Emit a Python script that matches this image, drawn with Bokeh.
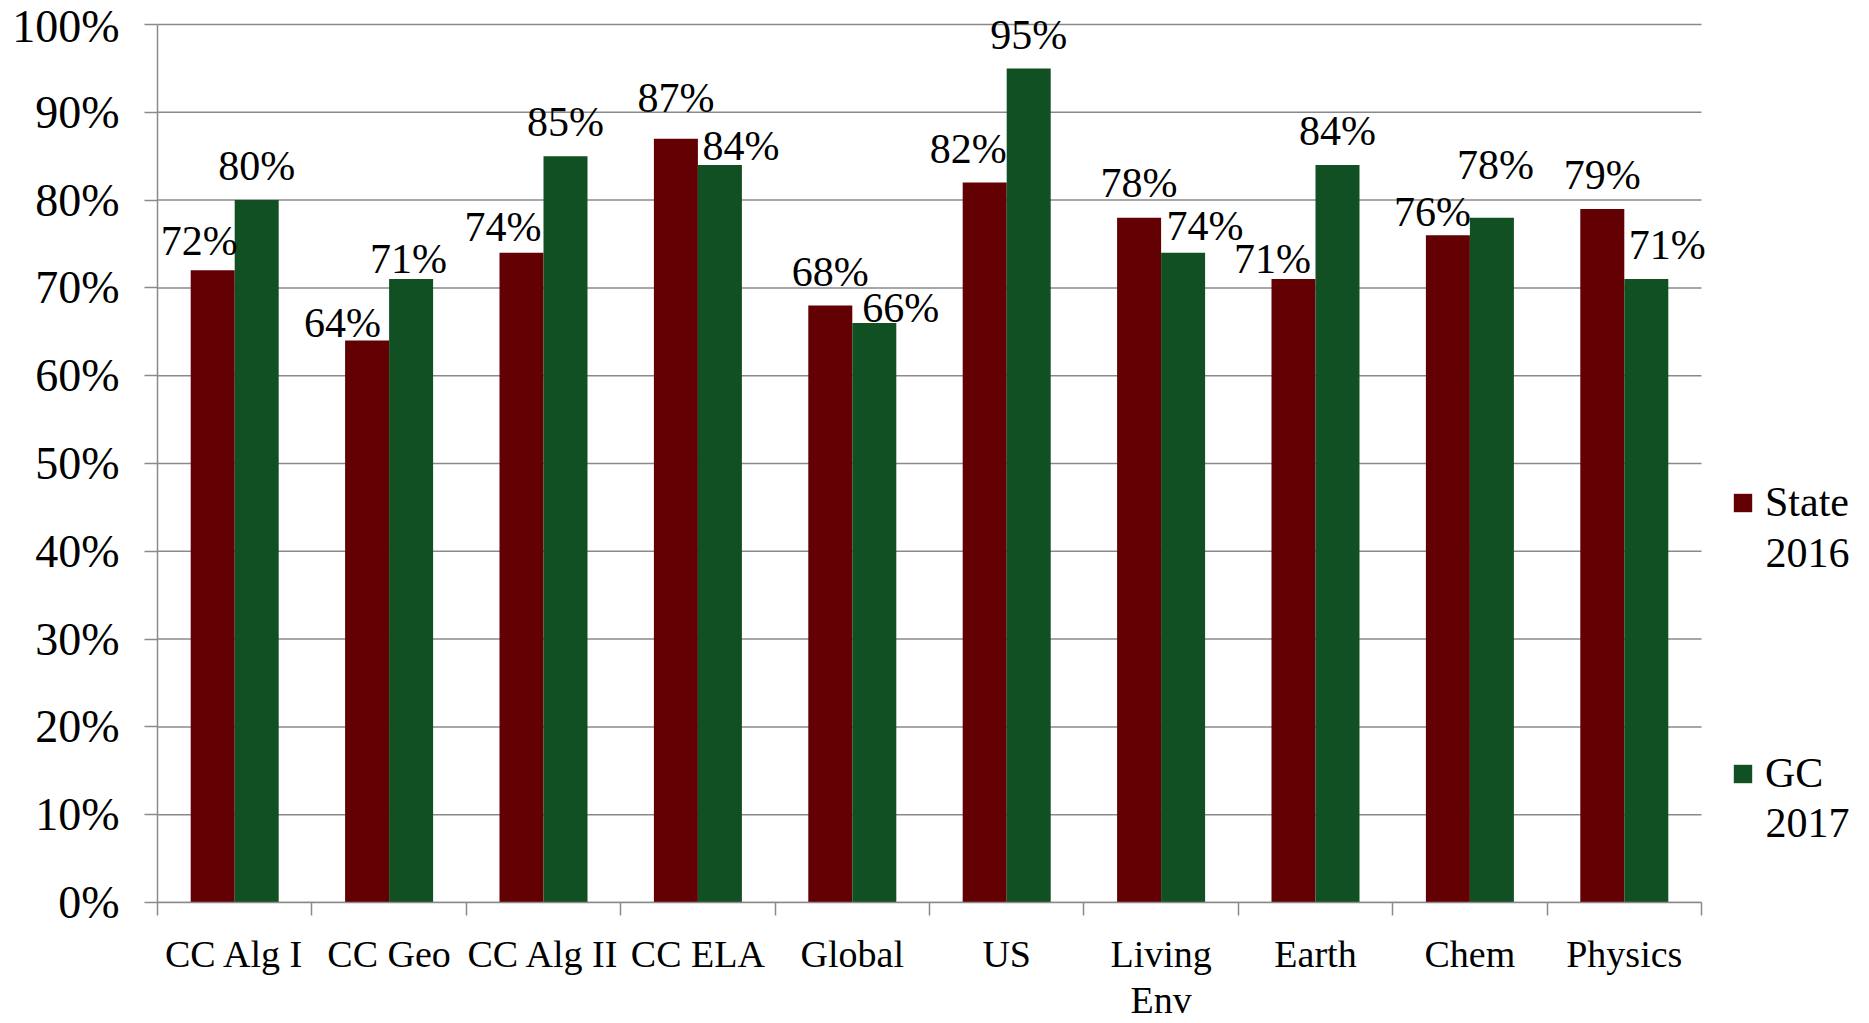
from bokeh.plotting import figure
from bokeh.models import (ColumnDataSource, LabelSet, Legend, LegendItem, Label,
                          FixedTicker, PrintfTickFormatter, Range1d)
from bokeh.embed import file_html
from bokeh.resources import INLINE

# ---- data ----
categories = ["CC Alg I", "CC Geo", "CC Alg II", "CC ELA", "Global",
              "US", "Living\nEnv", "Earth", "Chem", "Physics"]
state_2016 = [72, 64, 74, 87, 68, 82, 78, 71, 76, 79]
gc_2017 = [80, 71, 85, 84, 66, 95, 74, 84, 78, 71]
series_names = ["State", "GC"]
series_years = ["2016", "2017"]
y_ticks = [0, 10, 20, 30, 40, 50, 60, 70, 80, 90, 100]

# ---- style ----
RED = "#620004"
GREEN = "#115022"
GRID = "#8a8a8a"
FONT = "Liberation Serif"
BAR_W = 0.285

# label nudges in screen px (dx right, dy above bar top to baseline)
red_dx = [-13.5, -24.6, -18.5, 0, 0, -16.4, 0, -21, -15.4, 0]
red_dy = [15, 3.4, 11.6, 26.4, 19, 20, 20.5, 6, 9.7, 20]
green_dx = [0, -2.6, 0, 21, 26.5, 0, 22, 0, 3.6, 21]
green_dy = [20, 6, 20.7, 4.5, 1, 19.6, 13, 19.5, 39, 20]

n = len(categories)
centers = [i + 0.5 for i in range(n)]

W, H = 1861, 1023
LEFT, BOTTOM = 157, 121
TOP_PAD = 24                      # px between canvas top and the 100% line
PLOT_W = 1544                     # width of the gridded area in px
unit = PLOT_W / n                 # px per category
x_end = (W - LEFT) / unit         # frame runs on to hold the legend
py = 100 / (H - BOTTOM - TOP_PAD) # data units per px (y)
y_end = 100 + TOP_PAD * py

p = figure(width=W, height=H,
           x_range=Range1d(0, x_end), y_range=Range1d(0, y_end),
           output_backend="svg", toolbar_location=None,
           min_border_left=LEFT, min_border_right=0,
           min_border_top=0, min_border_bottom=BOTTOM)
p.outline_line_color = None
p.background_fill_color = "white"
p.border_fill_color = "white"

# horizontal grid lines over the category area only
p.xgrid.visible = False
p.ygrid.visible = False
p.segment(x0=[0] * len(y_ticks), x1=[n] * len(y_ticks), y0=y_ticks, y1=y_ticks,
          line_color=GRID, line_width=1.5)

src_red = ColumnDataSource(dict(
    x=[c - BAR_W / 2 for c in centers], top=state_2016,
    text=[f"{v}%" for v in state_2016], dx=red_dx, dy=red_dy))
src_green = ColumnDataSource(dict(
    x=[c + BAR_W / 2 for c in centers], top=gc_2017,
    text=[f"{v}%" for v in gc_2017], dx=green_dx, dy=green_dy))

r_red = p.vbar(x="x", top="top", width=BAR_W, source=src_red,
               fill_color=RED, line_color=None)
r_green = p.vbar(x="x", top="top", width=BAR_W, source=src_green,
                 fill_color=GREEN, line_color=None)

for src in (src_red, src_green):
    p.add_layout(LabelSet(x="x", y="top", text="text", source=src,
                          x_offset="dx", y_offset="dy",
                          text_align="center", text_baseline="alphabetic",
                          text_font=FONT, text_font_size="42px",
                          text_color="black"))

# y axis
ya = p.yaxis[0]
ya.bounds = (0, 100)
ya.ticker = FixedTicker(ticks=y_ticks)
ya.formatter = PrintfTickFormatter(format="%d%%")
ya.axis_line_color = GRID
ya.axis_line_width = 1.5
ya.major_tick_line_color = GRID
ya.major_tick_line_width = 1.5
ya.major_tick_out = 13
ya.major_tick_in = 0
ya.minor_tick_line_color = None
ya.major_label_standoff = 25
ya.major_label_text_font = FONT
ya.major_label_text_font_size = "46px"
ya.major_label_text_color = "black"

# x axis: labels at centers, ticks at boundaries
xa = p.xaxis[0]
xa.bounds = (0, n)
xa.ticker = FixedTicker(ticks=centers, minor_ticks=list(range(n + 1)))
xa.major_label_overrides = {c: lab for c, lab in zip(centers, categories)}
xa.axis_line_color = GRID
xa.axis_line_width = 1.5
xa.major_tick_line_color = None
xa.major_tick_out = 0
xa.major_tick_in = 0
xa.minor_tick_line_color = GRID
xa.minor_tick_line_width = 1.5
xa.minor_tick_out = 13
xa.minor_tick_in = 0
xa.major_label_standoff = 17
xa.major_label_text_font = FONT
xa.major_label_text_font_size = "38px"
xa.major_label_text_color = "black"
xa.major_label_text_line_height = 1.1

# legend (inside the extended frame, right of the grid)
legend = Legend(items=[LegendItem(label=series_names[0], renderers=[r_red]),
                       LegendItem(label=series_names[1], renderers=[r_green])],
                location=(1574, 105), glyph_width=23, glyph_height=23,
                label_standoff=11, spacing=223, padding=0, margin=0,
                border_line_color=None, background_fill_alpha=0,
                label_text_font=FONT, label_text_font_size="42px",
                label_text_color="black")
p.add_layout(legend)

frame_bottom = H - BOTTOM
for yr, base in zip(series_years, [552, 822]):
    p.add_layout(Label(x=(1765 - LEFT) / unit, y=(frame_bottom - base) * py,
                       text=yr, text_font=FONT, text_font_size="42px",
                       text_color="black", text_baseline="alphabetic",
                       text_align="left"))

open("out.html", "w").write(file_html(p, INLINE))
